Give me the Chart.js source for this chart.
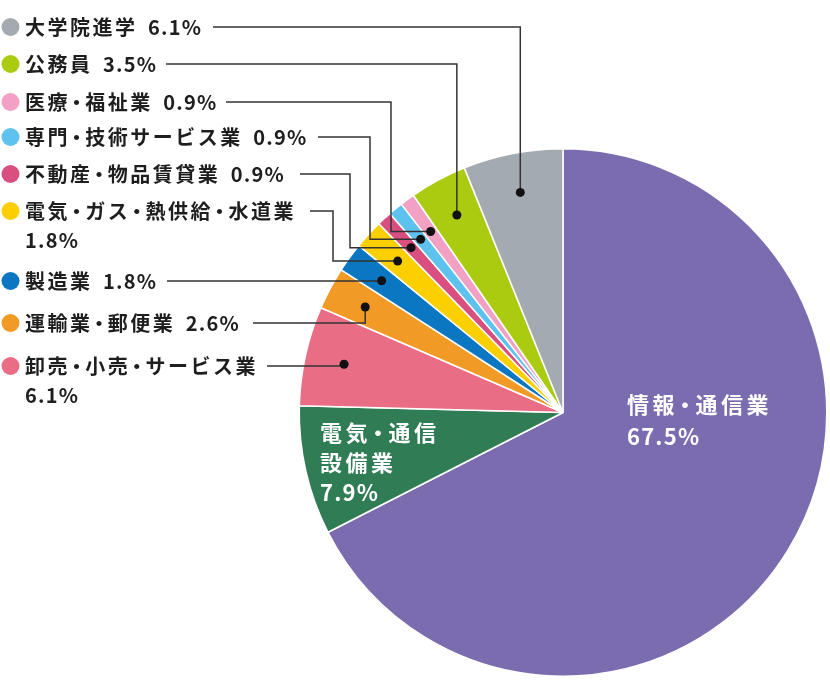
<!DOCTYPE html>
<html lang="ja">
<head>
<meta charset="utf-8">
<script src="https://cdn.jsdelivr.net/npm/chart.js@4.4.1/dist/chart.umd.min.js"></script>
<style>
  html, body { margin: 0; padding: 0; background: #fff; }
  canvas { display: block; }
</style>
</head>
<body>
<canvas id="myChart" width="830" height="681"></canvas>
<script>
// values, clockwise from 12 o'clock
const categories = ['情報・通信業', '電気・通信設備業', '卸売・小売・サービス業', '運輸業・郵便業', '製造業',
  '電気・ガス・熱供給・水道業', '不動産・物品賃貸業', '専門・技術サービス業', '医療・福祉業', '公務員', '大学院進学'];
const shares = [67.5, 7.9, 6.1, 2.6, 1.8, 1.8, 0.9, 0.9, 0.9, 3.5, 6.1];
const colors = ['#7b6cb0', '#2f7c55', '#e96d85', '#f19a25', '#0b77c2',
  '#fccf00', '#d94f80', '#5ec2ee', '#f2a0c4', '#aacb0f', '#a4abb0'];

// left-hand callouts (row y, where the leader starts, optional elbow x)
const callouts = [
  { i: 10, y: 27, lineX: 213 },
  { i: 9, y: 64, lineX: 166 },
  { i: 8, y: 102, lineX: 226, elbowX: 391 },
  { i: 7, y: 137, lineX: 318, elbowX: 370 },
  { i: 6, y: 174, lineX: 300, elbowX: 350 },
  { i: 5, y: 211, lineX: 310, elbowX: 333, wrap: true },
  { i: 4, y: 281, lineX: 167 },
  { i: 3, y: 323, lineX: 253 },
  { i: 2, y: 366, lineX: 267, wrap: true }
];
// labels written inside the two big slices
const insideLabels = [
  { i: 0, x: 627, y: 405, step: 32, breakAt: null },
  { i: 1, x: 320, y: 433, step: 30, breakAt: 5 }
];

// draws char by char: wide tracking for kana/kanji, tight for digits, narrow middle dot
function drawSpaced(ctx, str, x, y, spacing, size) {
  for (const ch of str) {
    const w = ctx.measureText(ch).width;
    if (ch === '・') {
      const box = size * 0.64;
      ctx.fillText(ch, x + (box - w) / 2, y);
      x += box + spacing;
    } else if (ch === ' ') {
      x += size * 0.4 + spacing;
    } else if (ch.charCodeAt(0) < 128) {
      ctx.fillText(ch, x, y);
      x += w + 1.2;
    } else {
      ctx.fillText(ch, x, y);
      x += w + spacing;
    }
  }
  return x;
}

const calloutPlugin = {
  id: 'callouts',
  afterDraw(chart) {
    const ctx = chart.ctx;
    const arcs = chart.getDatasetMeta(0).data;
    const FONT = '"Noto Sans CJK JP", "Noto Sans", sans-serif';
    ctx.save();
    ctx.textBaseline = 'middle';
    ctx.textAlign = 'left';

    callouts.forEach(c => {
      const val = shares[c.i].toFixed(1) + '%';
      // legend circle
      ctx.fillStyle = colors[c.i];
      ctx.beginPath();
      ctx.arc(10.5, c.y, 9, 0, Math.PI * 2);
      ctx.fill();
      // text
      ctx.fillStyle = '#1e1e1e';
      ctx.font = 'bold 20px ' + FONT;
      let end;
      if (c.wrap) {
        end = drawSpaced(ctx, categories[c.i], 25, c.y, 2.5, 20);
        drawSpaced(ctx, val, 25, c.y + 29, 2.5, 20);
      } else {
        end = drawSpaced(ctx, categories[c.i] + ' ' + val, 25, c.y, 2.5, 20);
      }
      // leader
      const arc = arcs[c.i];
      const mid = (arc.startAngle + arc.endAngle) / 2;
      const r = arc.outerRadius * 0.85;
      const px = arc.x + r * Math.cos(mid);
      const py = arc.y + r * Math.sin(mid);
      const ex = c.elbowX !== undefined ? c.elbowX : px;
      ctx.strokeStyle = '#333';
      ctx.lineWidth = 1.5;
      ctx.beginPath();
      ctx.moveTo(Math.max(c.lineX, end + 5), c.y);
      ctx.lineTo(ex, c.y);
      ctx.lineTo(ex, py);
      ctx.lineTo(px, py);
      ctx.stroke();
      ctx.fillStyle = '#111';
      ctx.beginPath();
      ctx.arc(px, py, 4.5, 0, Math.PI * 2);
      ctx.fill();
    });

    insideLabels.forEach(l => {
      const name = categories[l.i];
      const lines = l.breakAt ? [name.slice(0, l.breakAt), name.slice(l.breakAt)] : [name];
      lines.push(shares[l.i].toFixed(1) + '%');
      ctx.fillStyle = '#fff';
      ctx.font = 'bold 22px ' + FONT;
      lines.forEach((t, k) => drawSpaced(ctx, t, l.x, l.y + k * l.step, 3.5, 22));
    });
    ctx.restore();
  }
};

new Chart(document.getElementById('myChart'), {
  type: 'pie',
  data: {
    labels: categories,
    datasets: [{
      data: shares,
      backgroundColor: colors,
      borderColor: '#fff',
      borderWidth: 1.5
    }]
  },
  options: {
    responsive: false,
    animation: false,
    layout: { padding: { left: 298, right: 2, top: 148, bottom: 4 } },
    plugins: {
      legend: { display: false },
      tooltip: { enabled: false }
    }
  },
  plugins: [calloutPlugin]
});
</script>
</body>
</html>
